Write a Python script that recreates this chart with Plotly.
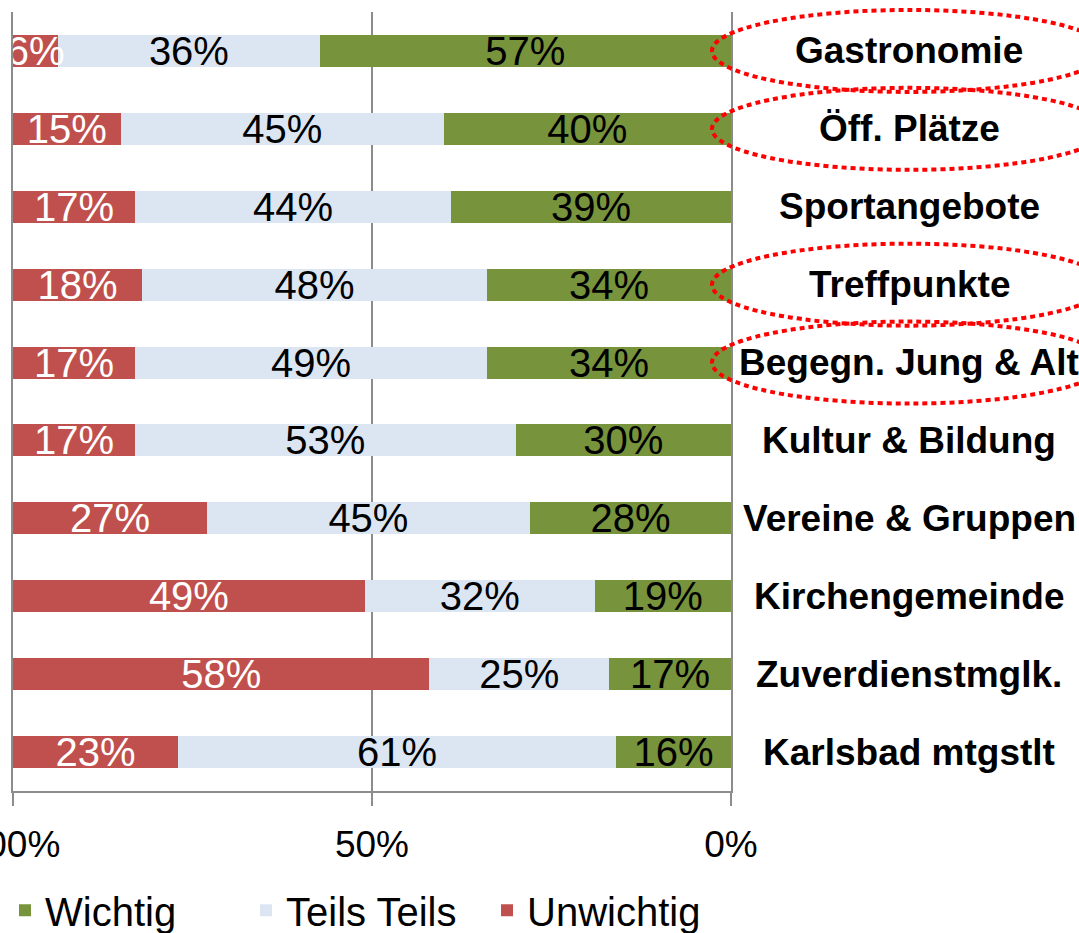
import plotly.graph_objects as go

categories = ["Gastronomie", "Öff. Plätze", "Sportangebote", "Treffpunkte",
              "Begegn. Jung & Alt", "Kultur & Bildung", "Vereine & Gruppen",
              "Kirchengemeinde", "Zuverdienstmglk.", "Karlsbad mtgstlt"]
wichtig = [57.3, 40, 39, 34, 34, 30, 28, 19, 17, 16]
teils = [36.4, 45, 44, 48, 49, 53, 45, 32, 25, 61]
unwichtig = [6.3, 15, 17, 18, 17, 17, 27, 49, 58, 23]
series_names = ["Wichtig", "Teils Teils", "Unwichtig"]
highlighted = ["Gastronomie", "Öff. Plätze", "Treffpunkte", "Begegn. Jung & Alt"]
tick_vals = [0, 50, 100]
tick_text = ["0%", "50%", "100%"]

FONT = "Liberation Sans, Arial, sans-serif"
colors = ["#77933C", "#DCE6F2", "#C0504D"]
text_colors = ["black", "black", "white"]

W, H = 1079, 933
L, R, T, B = 13, 348, 12, 142
plot_h = H - T - B
plot_w = W - L - R

fig = go.Figure()
for name, vals, col, tcol in zip(series_names, [wichtig, teils, unwichtig], colors, text_colors):
    fig.add_trace(go.Bar(
        name=name, y=categories, x=vals, orientation="h",
        marker=dict(color=col, line=dict(width=0)),
        texttemplate="%{x:.0f}%", textposition="inside",
        insidetextanchor="middle", textangle=0,
        textfont=dict(family=FONT, size=40, color=tcol),
        cliponaxis=True, hoverinfo="skip",
    ))

annotations = []
for c in categories:
    annotations.append(dict(
        x=(909 - L) / plot_w, xref="paper", y=c, yref="y",
        text="<b>%s</b>" % c, showarrow=False, xanchor="center", yanchor="middle",
        font=dict(family=FONT, size=37, color="black"),
    ))

shapes = []
n = len(categories)
half_h = 41 / plot_h
for c in highlighted:
    i = categories.index(c)
    yc = 1 - (i + 0.5) / n
    shapes.append(dict(
        type="circle", xref="paper", yref="paper",
        x0=(712 - L) / plot_w, x1=(1106 - L) / plot_w,
        y0=yc - half_h, y1=yc + half_h,
        line=dict(color="#FF0000", width=4, dash="5px,4px"),
        layer="above",
    ))

fig.update_layout(
    width=W, height=H,
    margin=dict(l=L, r=R, t=T, b=B, autoexpand=False),
    barmode="stack", bargap=0.59,
    plot_bgcolor="white", paper_bgcolor="white",
    font=dict(family=FONT, color="black"),
    uniformtext=dict(minsize=40, mode="show"),
    showlegend=True,
    legend=dict(orientation="h", x=(5 - L) / plot_w, xanchor="left", y=-0.153, yanchor="middle",
                font=dict(family=FONT, size=40), traceorder="normal",
                entrywidth=196, entrywidthmode="pixels",
                itemclick=False, bgcolor="rgba(0,0,0,0)"),
    annotations=annotations,
    shapes=shapes,
)
fig.update_xaxes(
    range=[100, 0], tickvals=tick_vals, ticktext=tick_text,
    showgrid=True, gridcolor="#8C8C8C", gridwidth=2,
    zeroline=False, showline=True, linecolor="#8C8C8C", linewidth=2,
    ticks="outside", ticklen=13, tickwidth=2, tickcolor="#8C8C8C",
    tickfont=dict(family=FONT, size=37, color="black"),
    ticklabelstandoff=7, ticklabeloverflow="allow",
    fixedrange=True, automargin=False,
)
fig.update_yaxes(
    autorange="reversed", showticklabels=False, showgrid=False,
    zeroline=False, showline=True, mirror=True, linecolor="#8C8C8C", linewidth=2,
    ticks="", fixedrange=True, automargin=False,
)

fig.write_html("out.html", config={"displayModeBar": False},
               post_script="document.body.style.margin='0';document.body.style.overflow='hidden';")
